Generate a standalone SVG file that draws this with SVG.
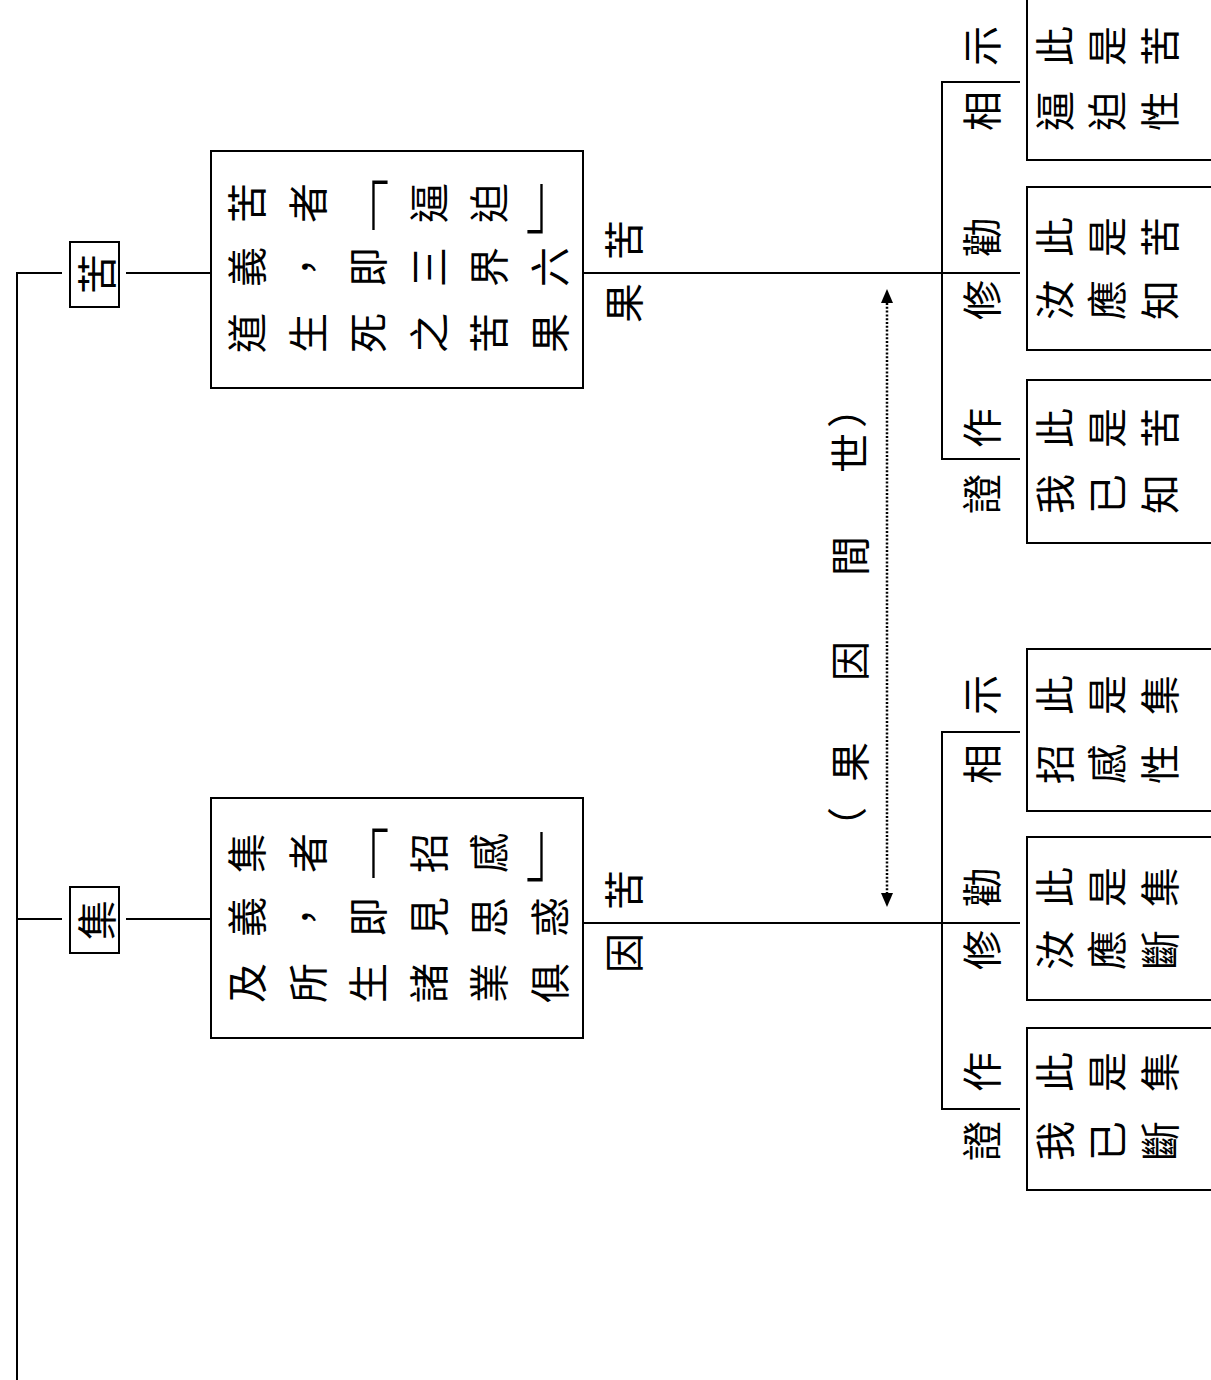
<svg xmlns="http://www.w3.org/2000/svg" width="1211" height="1380" viewBox="0 0 1211 1380">
<style>
.c{font-family:"Noto Sans CJK TC","Noto Sans CJK SC",sans-serif;font-size:40px;text-anchor:middle;dominant-baseline:central;fill:#000}
.b{font-family:"Noto Sans CJK TC","Noto Sans CJK SC",sans-serif;font-size:50px;text-anchor:middle;fill:#000;font-weight:300}
.ln{stroke:#000;stroke-width:2;fill:none}
.box{fill:#fff;stroke:#000;stroke-width:2}
.dot{stroke:#000;stroke-width:2.5;fill:none;stroke-dasharray:2 1.8}
.ah{fill:#000}
</style>
<rect width="1211" height="1380" fill="#fff"/>

<g id="connectors">
<path class="ln" d="M17,1380 V273 H62"/>
<path class="ln" d="M17,919 H62"/>
<path class="ln" d="M126,273 H211"/>
<path class="ln" d="M126,919 H211"/>
<path class="ln" d="M583,273 H1020"/>
<path class="ln" d="M583,923 H1020"/>
<path class="ln" d="M1020,82 H942 V459 H1020"/>
<path class="ln" d="M1020,732 H942 V1109 H1020"/>
<g id="edge-labels">
<text class="c" transform="translate(622 240) rotate(-90)">苦</text>
<text class="c" transform="translate(622 303) rotate(-90)">果</text>
<text class="c" transform="translate(622 890) rotate(-90)">苦</text>
<text class="c" transform="translate(622 953) rotate(-90)">因</text>
</g>
</g>

<g id="node-ku">
<rect class="box" x="70" y="242" width="49" height="65"/>
<text class="c" font-size="42" transform="translate(94.5 274) rotate(-90)">苦</text>
</g>
<g id="node-ji">
<rect class="box" x="70" y="887" width="49" height="66"/>
<text class="c" font-size="42" transform="translate(94.5 920) rotate(-90)">集</text>
</g>

<g id="node-ku-def">
<rect class="box" x="211" y="151" width="372" height="237"/>
<text class="c" transform="translate(245 203) rotate(-90)">苦</text>
<text class="c" transform="translate(306 203) rotate(-90)">者</text>
<text class="b" transform="translate(364.5 244) scale(1 1.5)">「</text>
<text class="c" transform="translate(427 203) rotate(-90)">逼</text>
<text class="c" transform="translate(487 203) rotate(-90)">迫</text>
<text class="b" transform="translate(550.5 227) scale(1 1.5)">」</text>
<text class="c" transform="translate(245 267) rotate(-90)">義</text>
<text class="c" transform="translate(306 267) rotate(-90)">，</text>
<text class="c" transform="translate(366 267) rotate(-90)">即</text>
<text class="c" transform="translate(427 267) rotate(-90)">三</text>
<text class="c" transform="translate(487 267) rotate(-90)">界</text>
<text class="c" transform="translate(548 267) rotate(-90)">六</text>
<text class="c" transform="translate(245 333) rotate(-90)">道</text>
<text class="c" transform="translate(306 333) rotate(-90)">生</text>
<text class="c" transform="translate(366 333) rotate(-90)">死</text>
<text class="c" transform="translate(427 333) rotate(-90)">之</text>
<text class="c" transform="translate(487 333) rotate(-90)">苦</text>
<text class="c" transform="translate(548 333) rotate(-90)">果</text>
</g>

<g id="node-ji-def">
<rect class="box" x="211" y="798" width="372" height="240"/>
<text class="c" transform="translate(245 853) rotate(-90)">集</text>
<text class="c" transform="translate(306 853) rotate(-90)">者</text>
<text class="b" transform="translate(364.5 892) scale(1 1.5)">「</text>
<text class="c" transform="translate(427 853) rotate(-90)">招</text>
<text class="c" transform="translate(487 853) rotate(-90)">感</text>
<text class="b" transform="translate(550.5 875) scale(1 1.5)">」</text>
<text class="c" transform="translate(245 917) rotate(-90)">義</text>
<text class="c" transform="translate(306 917) rotate(-90)">，</text>
<text class="c" transform="translate(366 917) rotate(-90)">即</text>
<text class="c" transform="translate(427 917) rotate(-90)">見</text>
<text class="c" transform="translate(487 917) rotate(-90)">思</text>
<text class="c" transform="translate(548 917) rotate(-90)">惑</text>
<text class="c" transform="translate(245 983) rotate(-90)">及</text>
<text class="c" transform="translate(306 983) rotate(-90)">所</text>
<text class="c" transform="translate(366 983) rotate(-90)">生</text>
<text class="c" transform="translate(427 983) rotate(-90)">諸</text>
<text class="c" transform="translate(487 983) rotate(-90)">業</text>
<text class="c" transform="translate(548 983) rotate(-90)">俱</text>
</g>

<g id="span-label">
<line class="dot" x1="887" y1="303" x2="887" y2="893"/>
<path class="ah" d="M887,289 L893,303 L881,303 Z"/>
<path class="ah" d="M887,907 L893,893 L881,893 Z"/>
<text class="c" transform="translate(845 408) rotate(-90)">）</text>
<text class="c" transform="translate(848 453) rotate(-90)">世</text>
<text class="c" transform="translate(848 556) rotate(-90)">間</text>
<text class="c" transform="translate(848 661) rotate(-90)">因</text>
<text class="c" transform="translate(848 762) rotate(-90)">果</text>
<text class="c" transform="translate(845 827) rotate(-90)">（</text>
</g>

<g id="turns-ku">
<text class="c" transform="translate(980 46) rotate(-90)">示</text>
<text class="c" transform="translate(980 111) rotate(-90)">相</text>
<text class="c" transform="translate(980 237) rotate(-90)">勸</text>
<text class="c" transform="translate(980 300) rotate(-90)">修</text>
<text class="c" transform="translate(980 428) rotate(-90)">作</text>
<text class="c" transform="translate(980 494) rotate(-90)">證</text>
</g>
<g id="ku-1">
<rect class="box" x="1027" y="-5" width="200" height="165"/>
<text class="c" transform="translate(1053 46) rotate(-90)">此</text>
<text class="c" transform="translate(1105 46) rotate(-90)">是</text>
<text class="c" transform="translate(1158 46) rotate(-90)">苦</text>
<text class="c" transform="translate(1053 111) rotate(-90)">逼</text>
<text class="c" transform="translate(1105 111) rotate(-90)">迫</text>
<text class="c" transform="translate(1158 111) rotate(-90)">性</text>
</g>
<g id="ku-2">
<rect class="box" x="1027" y="187" width="200" height="163"/>
<text class="c" transform="translate(1053 237) rotate(-90)">此</text>
<text class="c" transform="translate(1105 237) rotate(-90)">是</text>
<text class="c" transform="translate(1158 237) rotate(-90)">苦</text>
<text class="c" transform="translate(1053 300) rotate(-90)">汝</text>
<text class="c" transform="translate(1105 300) rotate(-90)">應</text>
<text class="c" transform="translate(1158 300) rotate(-90)">知</text>
</g>
<g id="ku-3">
<rect class="box" x="1027" y="380" width="200" height="163"/>
<text class="c" transform="translate(1053 428) rotate(-90)">此</text>
<text class="c" transform="translate(1105 428) rotate(-90)">是</text>
<text class="c" transform="translate(1158 428) rotate(-90)">苦</text>
<text class="c" transform="translate(1053 494) rotate(-90)">我</text>
<text class="c" transform="translate(1105 494) rotate(-90)">已</text>
<text class="c" transform="translate(1158 494) rotate(-90)">知</text>
</g>

<g id="turns-ji">
<text class="c" transform="translate(980 695) rotate(-90)">示</text>
<text class="c" transform="translate(980 764) rotate(-90)">相</text>
<text class="c" transform="translate(980 887) rotate(-90)">勸</text>
<text class="c" transform="translate(980 950) rotate(-90)">修</text>
<text class="c" transform="translate(980 1072) rotate(-90)">作</text>
<text class="c" transform="translate(980 1141) rotate(-90)">證</text>
</g>
<g id="ji-1">
<rect class="box" x="1027" y="649" width="200" height="162"/>
<text class="c" transform="translate(1053 695) rotate(-90)">此</text>
<text class="c" transform="translate(1105 695) rotate(-90)">是</text>
<text class="c" transform="translate(1158 695) rotate(-90)">集</text>
<text class="c" transform="translate(1053 764) rotate(-90)">招</text>
<text class="c" transform="translate(1105 764) rotate(-90)">感</text>
<text class="c" transform="translate(1158 764) rotate(-90)">性</text>
</g>
<g id="ji-2">
<rect class="box" x="1027" y="837" width="200" height="163"/>
<text class="c" transform="translate(1053 887) rotate(-90)">此</text>
<text class="c" transform="translate(1105 887) rotate(-90)">是</text>
<text class="c" transform="translate(1158 887) rotate(-90)">集</text>
<text class="c" transform="translate(1053 950) rotate(-90)">汝</text>
<text class="c" transform="translate(1105 950) rotate(-90)">應</text>
<text class="c" transform="translate(1158 950) rotate(-90)">斷</text>
</g>
<g id="ji-3">
<rect class="box" x="1027" y="1028" width="200" height="162"/>
<text class="c" transform="translate(1053 1072) rotate(-90)">此</text>
<text class="c" transform="translate(1105 1072) rotate(-90)">是</text>
<text class="c" transform="translate(1158 1072) rotate(-90)">集</text>
<text class="c" transform="translate(1053 1141) rotate(-90)">我</text>
<text class="c" transform="translate(1105 1141) rotate(-90)">已</text>
<text class="c" transform="translate(1158 1141) rotate(-90)">斷</text>
</g>
</svg>
